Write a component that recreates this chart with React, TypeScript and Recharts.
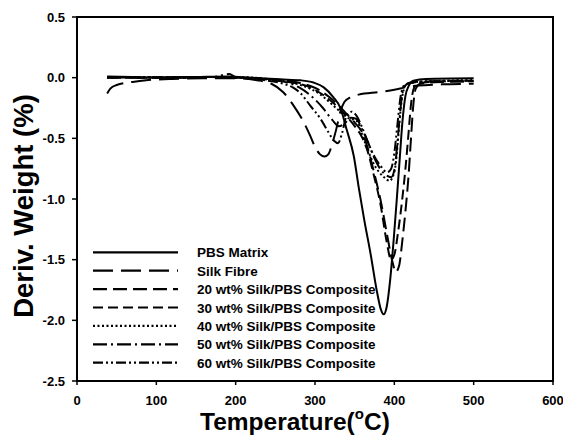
import {
  LineChart,
  Line,
  XAxis,
  YAxis,
  ReferenceArea,
  Legend,
} from 'recharts'

type Pt = [number, number]

// DTG curves: [temperature °C, deriv. weight %/°C]
const pbsMatrix: Pt[] = [
  [38, 0.01], [70, 0.005], [110, 0.0], [150, 0.005], [190, 0.01], [220, 0.0],
  [256, -0.014], [282, -0.022], [298, -0.04], [311, -0.08], [323, -0.16], [332, -0.25],
  [340, -0.43], [349, -0.65], [355, -0.9], [362, -1.17], [370, -1.45], [378, -1.76],
  [383, -1.91], [386.5, -1.95], [390, -1.9], [395, -1.65], [399, -1.35], [403, -1.01],
  [407, -0.65], [410, -0.38], [414, -0.15], [418, -0.07], [424, -0.025], [440, -0.01],
  [500, -0.005],
]
const silkFibre: Pt[] = [
  [38, -0.13], [42, -0.09], [50, -0.06], [70, -0.035], [90, -0.02], [120, -0.01],
  [160, -0.005], [200, -0.005], [225, -0.02], [245, -0.05], [260, -0.12], [273, -0.23],
  [286, -0.37], [294, -0.48], [300, -0.57], [306, -0.63], [312, -0.65], [317, -0.63],
  [321, -0.56], [327, -0.42], [332, -0.28], [337, -0.2], [344, -0.165], [355, -0.14],
  [382, -0.118], [400, -0.1], [416, -0.077], [430, -0.065], [460, -0.055], [500, -0.05],
]
const silk20: Pt[] = [
  [38, 0.0], [80, 0.0], [130, 0.005], [170, 0.005], [200, 0.0], [240, -0.01],
  [270, -0.03], [290, -0.06], [305, -0.1], [318, -0.16], [330, -0.23], [340, -0.3],
  [350, -0.37], [360, -0.46], [366, -0.57], [374, -0.77], [383, -1.02], [391, -1.3],
  [397, -1.5], [402, -1.6], [406, -1.55], [410, -1.35], [414, -1.1], [418, -0.8],
  [421, -0.5], [424, -0.22], [427, -0.09], [433, -0.05], [460, -0.035], [500, -0.03],
]
const silk30: Pt[] = [
  [38, 0.005], [80, 0.0], [130, 0.0], [170, 0.005], [200, 0.0], [240, -0.015],
  [270, -0.04], [290, -0.07], [305, -0.12], [318, -0.18], [330, -0.25], [340, -0.32],
  [350, -0.4], [360, -0.5], [366, -0.6], [374, -0.8], [383, -1.06], [390, -1.34],
  [396, -1.5], [400, -1.46], [405, -1.26], [410, -1.0], [414, -0.75], [418, -0.45],
  [421, -0.22], [425, -0.08], [430, -0.045], [460, -0.03], [500, -0.025],
]
const silk40: Pt[] = [
  [38, 0.0], [80, 0.005], [130, 0.0], [170, 0.005], [200, 0.005], [240, -0.01],
  [270, -0.04], [290, -0.08], [305, -0.13], [318, -0.2], [330, -0.27], [341, -0.33],
  [353, -0.36], [361, -0.5], [368, -0.62], [374, -0.71], [381, -0.78], [387, -0.82],
  [394, -0.85], [399, -0.8], [402, -0.7], [405, -0.48], [408, -0.26], [411, -0.12],
  [416, -0.05], [440, -0.03], [500, -0.02],
]
const silk50: Pt[] = [
  [38, 0.005], [80, 0.0], [130, 0.005], [170, 0.005], [192, 0.03], [200, 0.005],
  [240, -0.015], [265, -0.04], [280, -0.08], [295, -0.15], [310, -0.25], [322, -0.35],
  [330, -0.4], [337, -0.38], [345, -0.33], [352, -0.34], [359, -0.42], [366, -0.52],
  [374, -0.65], [382, -0.75], [389, -0.8], [396, -0.82], [400, -0.76], [403, -0.6],
  [406, -0.38], [409, -0.18], [413, -0.07], [420, -0.04], [450, -0.03], [500, -0.03],
]
const silk60: Pt[] = [
  [38, 0.0], [80, 0.005], [130, 0.0], [170, 0.005], [200, 0.0], [235, -0.02],
  [260, -0.05], [272, -0.08], [282, -0.13], [294, -0.23], [307, -0.34], [317, -0.45],
  [324, -0.52], [329, -0.54], [334, -0.46], [340, -0.31], [346, -0.28], [352, -0.31],
  [360, -0.42], [366, -0.52], [374, -0.64], [383, -0.73], [391, -0.78], [396, -0.75],
  [400, -0.62], [404, -0.38], [408, -0.15], [413, -0.06], [430, -0.035], [500, -0.025],
]

const seriesNames = [
  'PBS Matrix',
  'Silk Fibre',
  '20 wt% Silk/PBS Composite',
  '30 wt% Silk/PBS Composite',
  '40 wt% Silk/PBS Composite',
  '50 wt% Silk/PBS Composite',
  '60 wt% Silk/PBS Composite',
]
const seriesPoints = [pbsMatrix, silkFibre, silk20, silk30, silk40, silk50, silk60]

const xTicks = [0, 100, 200, 300, 400, 500, 600]
const yTicks = [-2.5, -2.0, -1.5, -1.0, -0.5, 0.0, 0.5]

// line styles, same order as seriesNames
const dashes = ['', '20 8', '14 6', '10 5', '2 2.5', '14 4 2 4', '10 3 2 3 2 3']

const FONT = "'Liberation Sans', Arial, sans-serif"

function XTitle() {
  return (
    <text x={200} y={430} fontFamily={FONT} fontWeight="bold" fontSize={24.5} fill="#000">
      Temperature(
      <tspan dy={-11} fontSize={15}>o</tspan>
      <tspan dy={11}>C)</tspan>
    </text>
  )
}

function YTitle() {
  return (
    <text
      x={33}
      y={206}
      transform="rotate(-90 33 206)"
      textAnchor="middle"
      fontFamily={FONT}
      fontWeight="bold"
      fontSize={27.5}
      fill="#000"
    >
      Deriv. Weight (%)
    </text>
  )
}

function DashLegend(props: any) {
  // keep the figure's order, not the alphabetical one
  const payload = [...(props.payload || [])].sort(
    (a: any, b: any) => seriesNames.indexOf(a.value) - seriesNames.indexOf(b.value),
  )
  return (
    <svg width={310} height={140} style={{ overflow: 'visible', display: 'block' }}>
      {payload.map((entry: any, i: number) => {
        const idx = seriesNames.indexOf(entry.value)
        const y = 12.3 + i * 18.4
        return (
          <g key={entry.value}>
            <line
              x1={3}
              x2={88}
              y1={y}
              y2={y}
              stroke="#000"
              strokeWidth={2.2}
              strokeDasharray={dashes[idx] || undefined}
            />
            <text
              x={107}
              y={y + 5}
              fontFamily={FONT}
              fontWeight="bold"
              fontSize={13.5}
              fill="#000"
            >
              {entry.value}
            </text>
          </g>
        )
      })}
    </svg>
  )
}

export default function App() {
  const tickStyle = { fill: '#000', fontSize: 13, fontWeight: 'bold', fontFamily: FONT }
  return (
    <div style={{ position: 'absolute', left: 0, top: 0, background: '#fff' }}>
      <LineChart width={563} height={435} margin={{ top: 17, right: 10, bottom: 0, left: 0 }}>
        <XAxis
          dataKey="t"
          type="number"
          domain={[0, 600]}
          ticks={xTicks}
          allowDataOverflow
          height={54}
          tick={tickStyle}
          tickSize={4}
          tickMargin={11}
          axisLine={{ stroke: '#000', strokeWidth: 2 }}
          tickLine={{ stroke: '#000', strokeWidth: 1.5 }}
          label={<XTitle />}
        />
        <YAxis
          type="number"
          domain={[-2.5, 0.5]}
          ticks={yTicks}
          allowDataOverflow
          width={77}
          tick={tickStyle}
          tickSize={5}
          tickMargin={7}
          tickFormatter={(v: number) => v.toFixed(1)}
          axisLine={{ stroke: '#000', strokeWidth: 2 }}
          tickLine={{ stroke: '#000', strokeWidth: 1.5 }}
          label={<YTitle />}
        />
        <ReferenceArea
          x1={0}
          x2={600}
          y1={-2.5}
          y2={0.5}
          fill="none"
          fillOpacity={0}
          stroke="#000"
          strokeWidth={2}
        />
        {seriesNames.map((name, i) => (
          <Line
            key={name}
            name={name}
            data={seriesPoints[i].map(([t, v]) => ({ t, v }))}
            dataKey="v"
            type="monotone"
            stroke="#000"
            strokeWidth={2}
            strokeDasharray={dashes[i] || undefined}
            dot={false}
            activeDot={false}
            isAnimationActive={false}
          />
        ))}
        <Legend
          layout="horizontal"
          verticalAlign="middle"
          align="center"
          itemSorter={null}
          content={<DashLegend />}
          wrapperStyle={{ left: 90, top: 240, width: 310, height: 140 }}
        />
      </LineChart>
    </div>
  )
}
